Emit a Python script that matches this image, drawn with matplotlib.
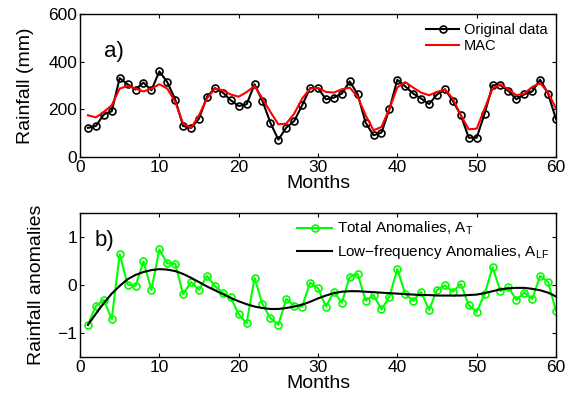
import numpy as np
import matplotlib
matplotlib.use("Agg")
import matplotlib.pyplot as plt

plt.rcParams["font.family"] = ["Liberation Sans", "DejaVu Sans"]
plt.rcParams["mathtext.fontset"] = "custom"
plt.rcParams["mathtext.rm"] = "Liberation Sans"
plt.rcParams["mathtext.it"] = "Liberation Sans"

months = np.arange(1, 61)

# panel a) monthly rainfall (mm)
original = [122, 130, 178, 192, 331, 305, 283, 312, 280, 359,
            314, 241, 130, 122, 161, 252, 289, 270, 238, 214,
            221, 305, 235, 143, 73, 123, 151, 217, 289, 289,
            242, 249, 266, 317, 263, 144, 91, 102, 201, 324,
            296, 266, 245, 222, 262, 284, 235, 175, 81, 81,
            182, 301, 301, 277, 242, 263, 275, 324, 266, 158]
mac = [175, 166, 189, 217, 287, 298, 287, 275, 287, 305,
       287, 231, 140, 122, 175, 245, 287, 280, 262, 253,
       272, 298, 245, 189, 137, 140, 182, 245, 287, 290,
       273, 270, 284, 291, 252, 175, 112, 126, 203, 292,
       314, 291, 270, 259, 273, 283, 245, 175, 116, 119,
       203, 287, 305, 283, 259, 266, 294, 310, 270, 203]

# panel b) anomalies
total_anom = [-0.83, -0.44, -0.31, -0.71, 0.64, 0.01, -0.02, 0.49, -0.10, 0.74,
              0.45, 0.44, -0.19, 0.06, -0.10, 0.19, -0.02, -0.16, -0.26, -0.61,
              -0.80, 0.15, -0.40, -0.69, -0.83, -0.29, -0.43, -0.45, 0.05, -0.07,
              -0.45, -0.14, -0.37, 0.17, 0.23, -0.33, -0.21, -0.51, -0.24, 0.33,
              -0.19, -0.33, -0.14, -0.52, -0.10, -0.01, -0.14, 0.02, -0.42, -0.56,
              -0.19, 0.37, -0.13, -0.05, -0.31, -0.16, -0.29, 0.19, 0.06, -0.54]
low_freq = [-0.83, -0.60, -0.38, -0.18, -0.02, 0.12, 0.21, 0.27, 0.31, 0.33,
            0.32, 0.29, 0.23, 0.15, 0.06, -0.03, -0.11, -0.19, -0.27, -0.34,
            -0.40, -0.45, -0.48, -0.50, -0.50, -0.48, -0.45, -0.41, -0.35, -0.28,
            -0.22, -0.17, -0.14, -0.13, -0.13, -0.14, -0.15, -0.16, -0.17, -0.18,
            -0.19, -0.20, -0.21, -0.21, -0.22, -0.22, -0.22, -0.22, -0.21, -0.20,
            -0.17, -0.13, -0.09, -0.07, -0.06, -0.06, -0.08, -0.11, -0.16, -0.24]

fig = plt.figure(figsize=(5.69, 4.07), dpi=100)
ax1 = fig.add_axes([0.1406, 0.6143, 0.8366, 0.3514])
ax2 = fig.add_axes([0.1406, 0.1229, 0.8366, 0.3538])

for ax in (ax1, ax2):
    ax.tick_params(direction="in", top=True, right=True, labelsize=12.5,
                   length=3, width=0.8)
    ax.tick_params(axis="x", pad=2)
    ax.tick_params(axis="y", pad=2)
    for s in ax.spines.values():
        s.set_linewidth(1.0)
    ax.set_xlim(0, 60)
    ax.set_xticks([0, 10, 20, 30, 40, 50, 60])

ax1.plot(months, original, "-o", color="black", lw=1.5, ms=5,
         mfc="none", mew=1.2, label="Original data")
ax1.plot(months, mac, "-", color="red", lw=1.5, label="MAC")
ax1.set_ylim(0, 600)
ax1.set_yticks([0, 200, 400, 600])
ax1.set_ylabel("Rainfall (mm)", fontsize=14, labelpad=10)
ax1.set_xlabel("Months", fontsize=14, labelpad=0)
ax1.text(0.05, 0.7, "a)", transform=ax1.transAxes, fontsize=16)
ax1.legend(loc="upper right", frameon=False, fontsize=10.5, handlelength=2.3,
           borderaxespad=0.2, labelspacing=0.15, handletextpad=0.3)

ax2.plot(months, total_anom, "-o", color="#00ff00", lw=1.5, ms=5,
         mfc="none", mew=1.2, label="Total Anomalies, A$_{\\mathrm{T}}$")
ax2.plot(months, low_freq, "-", color="black", lw=1.5,
         label="Low\u2212frequency Anomalies, A$_{\\mathrm{LF}}$")
ax2.set_ylim(-1.5, 1.5)
ax2.set_yticks([-1, 0, 1])
ax2.set_ylabel("Rainfall anomalies", fontsize=14, labelpad=9)
ax2.set_xlabel("Months", fontsize=14, labelpad=0)
ax2.text(0.03, 0.77, "b)", transform=ax2.transAxes, fontsize=16)
ax2.legend(loc="upper right", frameon=False, fontsize=11, handlelength=2.3,
           borderaxespad=0.05, labelspacing=0.4, handletextpad=0.3)

fig.savefig("out.png", dpi=100)
